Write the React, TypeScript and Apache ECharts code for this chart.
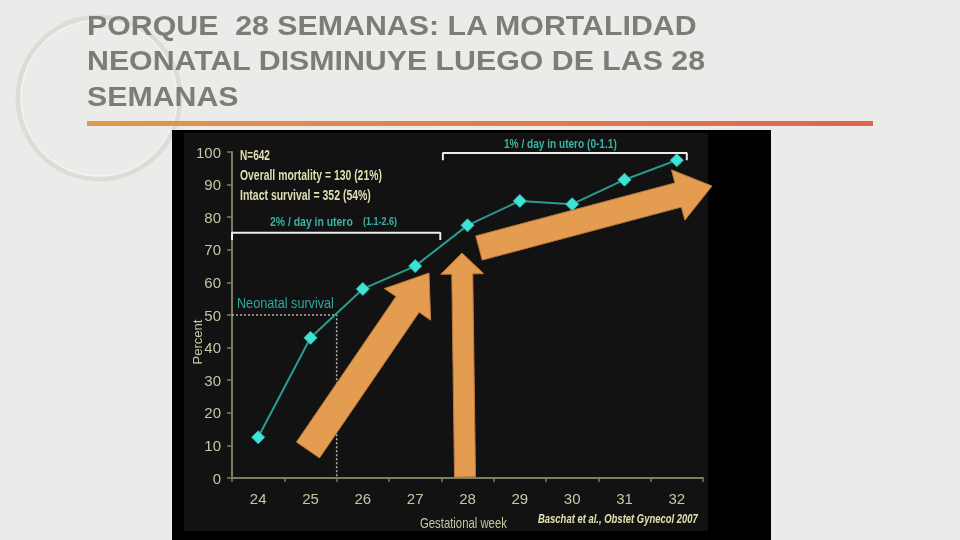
import React, { useEffect, useRef } from "react";
import * as echarts from "echarts";

const weeks = ["24", "25", "26", "27", "28", "29", "30", "31", "32"];
const neonatalSurvival = [12.5, 43, 58, 65, 77.5, 85, 84, 91.5, 97.5];
const survivalThreshold = [
  [23.5, 50],
  [25.5, 50],
  [25.5, 0],
];
const bracketEarly = [
  [23.5, 73],
  [23.5, 75.2],
  [27.48, 75.2],
  [27.48, 73],
];
const bracketLate = [
  [27.53, 97.5],
  [27.53, 99.7],
  [32.19, 99.7],
  [32.19, 97.5],
];
const titleLines = [
  "PORQUE  28 SEMANAS: LA MORTALIDAD",
  "NEONATAL DISMINUYE LUEGO DE LAS 28",
  "SEMANAS",
];
const statsLines = [
  "N=642",
  "Overall mortality = 130 (21%)",
  "Intact survival = 352 (54%)",
];

const FONT = '"Liberation Sans", Arial, sans-serif';

function measure(text: string, font: string): number {
  const ctx = document.createElement("canvas").getContext("2d");
  if (!ctx) return text.length * 7;
  ctx.font = font;
  return ctx.measureText(text).width;
}

function fitText(
  text: string,
  x: number,
  y: number,
  width: number,
  size: number,
  fill: string,
  weight = "normal",
  fontStyle = "normal"
) {
  const w = measure(text, `${fontStyle} ${weight} ${size}px ${FONT}`);
  return {
    type: "text",
    x,
    y,
    scaleX: width / w,
    z: 60,
    style: {
      text,
      fill,
      fontSize: size,
      fontWeight: weight,
      fontStyle,
      fontFamily: FONT,
      textAlign: "left",
      align: "left",
      textVerticalAlign: "middle",
      verticalAlign: "middle",
    },
  };
}

function arrowPoints(
  tail: number[],
  tip: number[],
  shaftW: number,
  headW: number,
  headL: number
) {
  const dx = tip[0] - tail[0];
  const dy = tip[1] - tail[1];
  const L = Math.hypot(dx, dy);
  const ux = dx / L;
  const uy = dy / L;
  const px = -uy;
  const py = ux;
  const bx = tip[0] - ux * headL;
  const by = tip[1] - uy * headL;
  return [
    [tail[0] + (px * shaftW) / 2, tail[1] + (py * shaftW) / 2],
    [bx + (px * shaftW) / 2, by + (py * shaftW) / 2],
    [bx + (px * headW) / 2, by + (py * headW) / 2],
    tip,
    [bx - (px * headW) / 2, by - (py * headW) / 2],
    [bx - (px * shaftW) / 2, by - (py * shaftW) / 2],
    [tail[0] - (px * shaftW) / 2, tail[1] - (py * shaftW) / 2],
  ];
}

export default function App() {
  const ref = useRef<HTMLDivElement>(null);

  useEffect(() => {
    if (!ref.current) return;
    const chart = echarts.init(ref.current, null, { renderer: "svg" });

    const arrowStyle = { fill: "#e39c50", stroke: "#b97a3c", lineWidth: 1 };
    const titleY = [25, 60.5, 96];
    const titleSize = 28;
    const titleScale =
      611 / measure(titleLines[0], `bold ${titleSize}px ${FONT}`);

    const graphics: any[] = [
      { type: "rect", z: -20, shape: { x: 0, y: 0, width: 960, height: 540 }, style: { fill: "#ebebe9" } },
      { type: "circle", z: -19, shape: { cx: 99, cy: 98, r: 81 }, style: { fill: "none", stroke: "#dcdcd9", lineWidth: 5 } },
      { type: "circle", z: -19, shape: { cx: 99, cy: 98, r: 78 }, style: { fill: "none", stroke: "#f3f3f2", lineWidth: 1.5 } },
      ...titleLines.map((t, i) => ({
        type: "text",
        x: 87,
        y: titleY[i],
        scaleX: titleScale,
        z: 60,
        style: {
          text: t,
          fill: "#7d7d77",
          fontSize: titleSize,
          fontWeight: "bold",
          fontFamily: FONT,
          textAlign: "left",
          align: "left",
          textVerticalAlign: "middle",
          verticalAlign: "middle",
        },
      })),
      {
        type: "rect",
        z: -18,
        shape: { x: 87, y: 121, width: 786, height: 5 },
        style: {
          fill: new echarts.graphic.LinearGradient(0, 0, 1, 0, [
            { offset: 0, color: "#de9a4e" },
            { offset: 1, color: "#e0644f" },
          ]),
        },
      },
      { type: "rect", z: -17, shape: { x: 172, y: 130, width: 599, height: 410 }, style: { fill: "#000000" } },
      { type: "rect", z: -16, shape: { x: 184, y: 133, width: 524, height: 398 }, style: { fill: "#121212" } },
      fitText(statsLines[0], 240, 155, 30, 14, "#e0deb2", "bold"),
      fitText(statsLines[1], 240, 175, 142, 14, "#e0deb2", "bold"),
      fitText(statsLines[2], 240, 195, 131, 14, "#e0deb2", "bold"),
      fitText("2% / day in utero", 270, 221, 83, 13, "#3ab2a5", "bold"),
      fitText("(1.1-2.6)", 363, 221, 34, 10, "#3ab2a5", "bold"),
      fitText("1% / day in utero (0-1.1)", 504, 143, 113, 13, "#3ab2a5", "bold"),
      fitText("Neonatal survival", 237, 303, 97, 14, "#2ea89b"),
      fitText("Gestational week", 420, 523, 87, 14, "#c8c6a2"),
      fitText("Baschat et al., Obstet Gynecol 2007", 538, 519, 160, 12, "#e2e0b2", "bold", "italic"),
      {
        type: "text",
        x: 197,
        y: 342,
        rotation: Math.PI / 2,
        z: 60,
        style: {
          text: "Percent",
          fill: "#c8c6a2",
          fontSize: 13,
          fontFamily: FONT,
          textAlign: "center",
          align: "center",
          textVerticalAlign: "middle",
          verticalAlign: "middle",
        },
      },
      { type: "polygon", z: 70, shape: { points: arrowPoints([308, 450], [429, 273], 28, 56, 38) }, style: arrowStyle },
      { type: "polygon", z: 70, shape: { points: arrowPoints([465, 477], [462, 253], 21, 43, 21) }, style: arrowStyle },
      { type: "polygon", z: 70, shape: { points: arrowPoints([479, 248], [712, 186], 25, 52, 35) }, style: arrowStyle },
    ];

    chart.setOption({
      animation: false,
      backgroundColor: "transparent",
      grid: { left: 232, right: 257, top: 152, bottom: 62, containLabel: false },
      xAxis: [
        {
          type: "category",
          data: weeks,
          boundaryGap: true,
          axisLine: { lineStyle: { color: "#7c7d63", width: 2 } },
          axisTick: { show: true, length: 4, lineStyle: { color: "#7c7d63", width: 1.5 } },
          axisLabel: { color: "#c8c6a2", fontSize: 15, fontFamily: FONT, margin: 13 },
          splitLine: { show: false },
        },
        {
          type: "value",
          min: 23.5,
          max: 32.5,
          show: false,
          splitLine: { show: false },
        },
      ],
      yAxis: {
        type: "value",
        min: 0,
        max: 100,
        interval: 10,
        axisLine: { show: true, lineStyle: { color: "#7c7d63", width: 2 } },
        axisTick: { show: true, length: 5, lineStyle: { color: "#7c7d63", width: 1.5 } },
        axisLabel: { color: "#c8c6a2", fontSize: 15, fontFamily: FONT, margin: 11 },
        splitLine: { show: false },
      },
      graphic: graphics,
      series: [
        {
          type: "line",
          xAxisIndex: 1,
          data: survivalThreshold,
          symbol: "none",
          lineStyle: { color: "#b4b4b0", width: 1.5, type: [2, 2] },
          z: 3,
        },
        {
          type: "line",
          xAxisIndex: 1,
          data: bracketEarly,
          symbol: "none",
          clip: false,
          lineStyle: { color: "#ececec", width: 2 },
          z: 3,
        },
        {
          type: "line",
          xAxisIndex: 1,
          data: bracketLate,
          symbol: "none",
          clip: false,
          lineStyle: { color: "#ececec", width: 2 },
          z: 3,
        },
        {
          type: "line",
          xAxisIndex: 0,
          data: neonatalSurvival,
          symbol: "diamond",
          symbolSize: 13,
          lineStyle: { color: "#2a9c92", width: 2 },
          itemStyle: { color: "#3ee3d3", borderColor: "#2bbfb2", borderWidth: 1 },
          z: 5,
        },
      ],
    });

    return () => chart.dispose();
  }, []);

  return (
    <div
      ref={ref}
      style={{ position: "fixed", left: 0, top: 0, width: 960, height: 540 }}
    />
  );
}
